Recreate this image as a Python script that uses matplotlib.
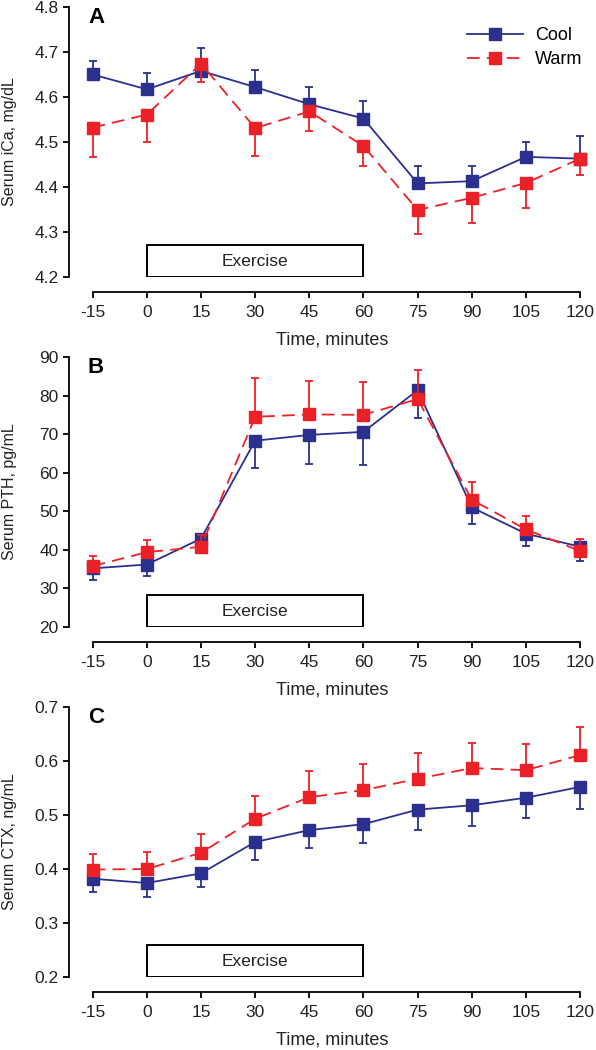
import matplotlib
matplotlib.use('Agg')
import matplotlib.pyplot as plt
from matplotlib.patches import Rectangle
from matplotlib.lines import Line2D

plt.rcParams['font.family'] = ['Liberation Sans', 'DejaVu Sans']

time = [-15, 0, 15, 30, 45, 60, 75, 90, 105, 120]
xtick_labels = ['-15', '0', '15', '30', '45', '60', '75', '90', '105', '120']

# panel A: serum iCa (cool errors go up, warm errors go down)
ica_cool = [4.650, 4.617, 4.658, 4.622, 4.584, 4.552, 4.408, 4.413, 4.467, 4.463]
ica_cool_err = [0.030, 0.037, 0.050, 0.037, 0.039, 0.039, 0.039, 0.034, 0.033, 0.050]
ica_warm = [4.532, 4.561, 4.674, 4.531, 4.568, 4.491, 4.349, 4.376, 4.409, 4.463]
ica_warm_err = [0.065, 0.060, 0.041, 0.062, 0.044, 0.044, 0.054, 0.056, 0.056, 0.037]

# panel B: serum PTH (cool errors down, warm errors up)
pth_cool = [35.2, 36.2, 42.9, 68.3, 69.8, 70.6, 81.4, 51.0, 44.2, 40.8]
pth_cool_err = [3.1, 2.9, 3.6, 7.0, 7.5, 8.6, 7.2, 4.2, 3.2, 3.7]
pth_warm = [35.8, 39.4, 40.8, 74.5, 75.1, 75.0, 79.1, 53.0, 45.3, 39.7]
pth_warm_err = [2.7, 3.1, 3.0, 10.0, 8.8, 8.4, 7.6, 4.6, 3.5, 3.2]

# panel C: serum CTX (cool errors down, warm errors up)
ctx_cool = [0.382, 0.374, 0.392, 0.450, 0.472, 0.483, 0.510, 0.518, 0.532, 0.552]
ctx_cool_err = [0.025, 0.025, 0.025, 0.033, 0.034, 0.034, 0.037, 0.039, 0.037, 0.040]
ctx_warm = [0.399, 0.400, 0.430, 0.493, 0.533, 0.546, 0.567, 0.587, 0.583, 0.611]
ctx_warm_err = [0.028, 0.031, 0.035, 0.042, 0.048, 0.048, 0.048, 0.047, 0.049, 0.052]

panels = [
    ('A', 'Serum iCa, mg/dL', (4.2, 4.8), [4.2, 4.3, 4.4, 4.5, 4.6, 4.7, 4.8], '{:.1f}',
     ica_cool, ica_cool_err, 'up', ica_warm, ica_warm_err, 'down'),
    ('B', 'Serum PTH, pg/mL', (20, 90), [20, 30, 40, 50, 60, 70, 80, 90], '{:.0f}',
     pth_cool, pth_cool_err, 'down', pth_warm, pth_warm_err, 'up'),
    ('C', 'Serum CTX, ng/mL', (0.2, 0.7), [0.2, 0.3, 0.4, 0.5, 0.6, 0.7], '{:.1f}',
     ctx_cool, ctx_cool_err, 'down', ctx_warm, ctx_warm_err, 'up'),
]

cool_color = '#2B2F8E'
warm_color = '#EC2027'
text_color = '#222222'
warm_dashes = (7, 4)

W, H = 596, 1050
fig = plt.figure(figsize=(W / 100, H / 100), dpi=100)


def yerr(err, direction):
    zeros = [0] * len(err)
    return [zeros, err] if direction == 'up' else [err, zeros]


tops = [7, 357, 707]
for (letter, ylabel, ylim, yticks, fmt, c, ce, cdir, w, we, wdir), top in zip(panels, tops):
    left, right, bottom = 69, 596, top + 270
    ax = fig.add_axes([left / W, 1 - bottom / H, (right - left) / W, 270 / H])
    ax.set_xlim(-21.56, 124.4)
    ax.set_ylim(*ylim)

    ax.errorbar(time, c, yerr=yerr(ce, cdir), color=cool_color, lw=1.3, marker='s',
                ms=8, capsize=3, elinewidth=1.3, capthick=1.3, zorder=3, clip_on=False)
    ax.errorbar(time, w, yerr=yerr(we, wdir), color=warm_color, lw=1.3, marker='s',
                ms=8, capsize=3, elinewidth=1.3, capthick=1.3, dashes=warm_dashes,
                zorder=4, clip_on=False)

    span = ylim[1] - ylim[0]
    ax.add_patch(Rectangle((0, ylim[0]), 60, span * 0.117, fill=False, ec='black', lw=1.4,
                           zorder=2))
    ax.text(30, ylim[0] + span * 0.058, 'Exercise', ha='center', va='center', fontsize=12.5,
            color=text_color)

    ax.text(-16.3, ylim[1] - span * 0.04, letter, fontsize=16, fontweight='bold', va='center')

    for s in ['top', 'right']:
        ax.spines[s].set_visible(False)
    ax.spines['left'].set_linewidth(1.3)
    ax.spines['bottom'].set_linewidth(1.3)
    ax.spines['bottom'].set_position(('outward', 10.5))
    ax.spines['bottom'].set_bounds(-15, 120)
    ax.set_xticks(time)
    ax.set_xticklabels(xtick_labels)
    ax.set_yticks(yticks)
    ax.set_yticklabels([fmt.format(v) for v in yticks])
    ax.tick_params(axis='both', labelsize=12.5, width=1.3, length=4, color='black',
                   labelcolor=text_color)
    ax.tick_params(axis='x', pad=6)
    ax.set_xlabel('Time, minutes', fontsize=13, labelpad=8, color=text_color)
    ax.set_ylabel(ylabel, fontsize=11.5, color=text_color)
    ax.yaxis.set_label_coords(-0.098, 0.5)

    if letter == 'A':
        handles = [Line2D([], [], color=cool_color, lw=1.3, marker='s', ms=8),
                   Line2D([], [], color=warm_color, lw=1.3, marker='s', ms=8,
                          dashes=warm_dashes)]
        ax.legend(handles, ['Cool', 'Warm'], loc='upper left',
                  bbox_to_anchor=(467 / W, 1 - 27 / H), bbox_transform=fig.transFigure,
                  frameon=False, fontsize=13, borderpad=0, borderaxespad=0,
                  handlelength=3.1, handletextpad=0.65, labelspacing=0.4)

fig.savefig('out.png', dpi=100)
